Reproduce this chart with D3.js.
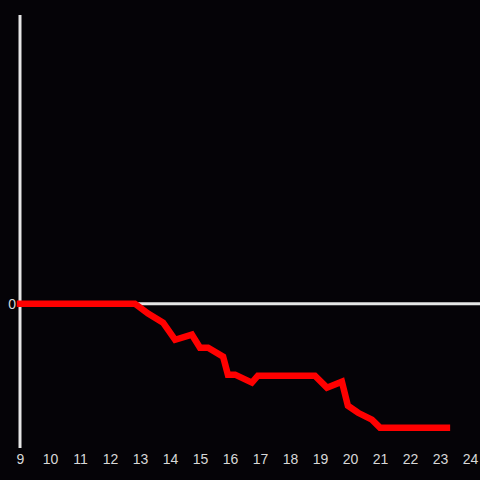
<!DOCTYPE html>
<html>
<head>
<meta charset="utf-8">
<script src="https://cdn.jsdelivr.net/npm/d3@7"></script>
<style>
  html, body { margin: 0; padding: 0; background: #050307; }
  svg { display: block; }
</style>
</head>
<body>
<div id="chart"></div>
<script>
// values
var hours  = [9, 12.83, 13.27, 13.77, 14.17, 14.73, 15, 15.27, 15.77, 15.93, 16.17, 16.73, 16.93, 18.83, 19.23, 19.73, 19.93, 20.27, 20.73, 21, 23.23];
var values = [0, 0, -0.069, -0.132, -0.25, -0.215, -0.305, -0.305, -0.367, -0.492, -0.492, -0.547, -0.499, -0.499, -0.582, -0.541, -0.707, -0.756, -0.804, -0.859, -0.859];
var xTicks = [9, 10, 11, 12, 13, 14, 15, 16, 17, 18, 19, 20, 21, 22, 23, 24];
var yTicks = [0];

var W = 480, H = 480;
var padLeft = 20, padTop = 15, padBottom = 448;

var svg = d3.select("#chart").append("svg")
    .attr("width", W)
    .attr("height", H);

svg.append("rect").attr("width", W).attr("height", H).attr("fill", "#050307");

var x = d3.scaleLinear().domain([9, 24]).range([padLeft, 470]);
var y = d3.scaleLinear().domain([-1, 2]).range([padBottom, padTop]);

// zero line
svg.append("line")
    .attr("x1", padLeft).attr("x2", W)
    .attr("y1", y(0)).attr("y2", y(0))
    .attr("stroke", "#e6e6e6")
    .attr("stroke-width", 3);

// y axis line
svg.append("line")
    .attr("x1", padLeft).attr("x2", padLeft)
    .attr("y1", padTop).attr("y2", padBottom)
    .attr("stroke", "#e6e6e6")
    .attr("stroke-width", 3);

var xAxis = d3.axisBottom(x).tickValues(xTicks).tickSize(0).tickPadding(6).tickFormat(d3.format("d"));
var gx = svg.append("g")
    .attr("transform", "translate(0," + padBottom + ")")
    .call(xAxis);
gx.select(".domain").remove();

var yAxis = d3.axisLeft(y).tickValues(yTicks).tickSize(0).tickPadding(4).tickFormat(d3.format("d"));
var gy = svg.append("g")
    .attr("transform", "translate(" + padLeft + ",0)")
    .call(yAxis);
gy.select(".domain").remove();

svg.selectAll(".tick text")
    .attr("fill", "#d8d8d8")
    .style("font-family", "'Liberation Sans', Arial, sans-serif")
    .style("font-size", "14px");

var pts = hours.map(function(h, i) { return [h, values[i]]; });

var line = d3.line()
    .x(function(d) { return x(d[0]); })
    .y(function(d) { return y(d[1]); });

svg.append("path")
    .datum(pts)
    .attr("d", line)
    .attr("fill", "none")
    .attr("stroke", "#ff0000")
    .attr("stroke-width", 6.5)
    .attr("stroke-linecap", "square")
    .attr("stroke-linejoin", "miter");
</script>
</body>
</html>
